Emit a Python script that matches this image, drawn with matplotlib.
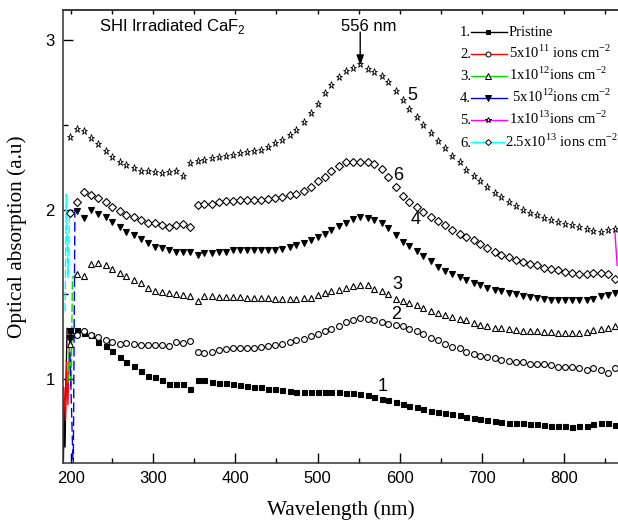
import numpy as np
import matplotlib
matplotlib.use("Agg")
import matplotlib.pyplot as plt
from matplotlib.lines import Line2D
from matplotlib.ticker import MultipleLocator, FixedLocator

SANS = "Liberation Sans"
SERIF = "Liberation Serif"

# wavelength of the plotted symbols (nm)
wl = [198, 207, 216, 224, 233, 242, 250, 259, 267, 276, 285, 293, 302, 311, 319, 328,
      336, 345, 354, 362, 371, 380, 388, 397, 405, 414, 423, 431, 440, 448, 457, 466,
      474, 483, 492, 500, 509, 517, 526, 535, 543, 552, 561, 569, 578, 586, 595, 604,
      612, 621, 629, 638, 647, 655, 664, 673, 681, 690, 698, 707, 716, 724, 733, 742,
      750, 759, 767, 776, 785, 793, 802, 810, 819, 828, 836, 845, 854, 862]

# 1. Pristine
pristine = [1.29, 1.292, 1.275, 1.258, 1.220, 1.194, 1.165, 1.131, 1.102, 1.077,
            1.047, 1.018, 1.014, 0.994, 0.971, 0.969, 0.969, 0.940, 0.998, 0.994,
            0.984, 0.978, 0.975, 0.969, 0.965, 0.961, 0.955, 0.955, 0.945, 0.941,
            0.935, 0.931, 0.925, 0.925, 0.925, 0.925, 0.925, 0.925, 0.922, 0.920,
            0.916, 0.912, 0.904, 0.896, 0.884, 0.877, 0.863, 0.855, 0.844, 0.834,
            0.825, 0.815, 0.806, 0.800, 0.794, 0.786, 0.777, 0.769, 0.763, 0.759,
            0.755, 0.749, 0.743, 0.739, 0.739, 0.735, 0.734, 0.730, 0.725, 0.725,
            0.724, 0.720, 0.724, 0.725, 0.734, 0.739, 0.739, 0.730]
# 2. 5x10^11
f5e11 = [1.25, 1.259, 1.282, 1.263, 1.249, 1.233, 1.220, 1.206, 1.214, 1.206,
         1.200, 1.200, 1.200, 1.200, 1.194, 1.220, 1.214, 1.226, 1.161, 1.157,
         1.161, 1.171, 1.177, 1.181, 1.185, 1.185, 1.186, 1.190, 1.194, 1.200,
         1.206, 1.220, 1.230, 1.239, 1.253, 1.269, 1.284, 1.298, 1.312, 1.337,
         1.347, 1.363, 1.353, 1.347, 1.337, 1.328, 1.318, 1.312, 1.298, 1.284,
         1.269, 1.245, 1.230, 1.210, 1.190, 1.181, 1.161, 1.147, 1.135, 1.128,
         1.122, 1.112, 1.106, 1.100, 1.100, 1.092, 1.088, 1.088, 1.082, 1.069,
         1.069, 1.069, 1.063, 1.053, 1.063, 1.057, 1.037, 1.063]
# 3. 1x10^12
f1e12 = [1.21, 1.622, 1.606, 1.677, 1.684, 1.671, 1.651, 1.626, 1.606, 1.587,
         1.567, 1.540, 1.520, 1.514, 1.508, 1.500, 1.494, 1.490, 1.461, 1.488,
         1.488, 1.484, 1.484, 1.484, 1.484, 1.481, 1.481, 1.478, 1.478, 1.475,
         1.471, 1.471, 1.475, 1.478, 1.481, 1.494, 1.508, 1.518, 1.528, 1.537,
         1.549, 1.557, 1.553, 1.534, 1.520, 1.500, 1.471, 1.462, 1.449, 1.435,
         1.422, 1.402, 1.390, 1.381, 1.367, 1.353, 1.347, 1.331, 1.318, 1.312,
         1.304, 1.302, 1.298, 1.288, 1.284, 1.284, 1.282, 1.278, 1.278, 1.272,
         1.272, 1.272, 1.272, 1.278, 1.288, 1.298, 1.302, 1.312]
# 4. 5x10^12
f5e12 = [1.24, 1.99, 1.95, 1.995, 1.975, 1.955, 1.925, 1.896, 1.867, 1.847,
         1.828, 1.802, 1.778, 1.775, 1.759, 1.749, 1.749, 1.749, 1.730, 1.743,
         1.743, 1.749, 1.749, 1.759, 1.759, 1.759, 1.759, 1.759, 1.759, 1.759,
         1.769, 1.778, 1.788, 1.802, 1.818, 1.841, 1.857, 1.881, 1.900, 1.920,
         1.945, 1.955, 1.951, 1.940, 1.920, 1.890, 1.850, 1.810, 1.785, 1.755,
         1.725, 1.695, 1.663, 1.637, 1.618, 1.602, 1.587, 1.569, 1.553, 1.540,
         1.528, 1.520, 1.510, 1.500, 1.490, 1.484, 1.478, 1.471, 1.469, 1.465,
         1.465, 1.465, 1.465, 1.469, 1.475, 1.488, 1.498, 1.508]
# 5. 1x10^13
f1e13 = [2.425, 2.475, 2.465, 2.420, 2.386, 2.347, 2.312, 2.280, 2.265, 2.245,
         2.230, 2.230, 2.220, 2.216, 2.220, 2.226, 2.200, 2.275, 2.288, 2.292,
         2.304, 2.308, 2.318, 2.324, 2.331, 2.337, 2.343, 2.351, 2.367, 2.390,
         2.410, 2.439, 2.469, 2.517, 2.567, 2.624, 2.684, 2.735, 2.779, 2.814,
         2.837, 2.855, 2.828, 2.808, 2.788, 2.749, 2.700, 2.643, 2.595, 2.545,
         2.497, 2.452, 2.406, 2.362, 2.318, 2.279, 2.234, 2.200, 2.167, 2.131,
         2.096, 2.073, 2.043, 2.018, 1.998, 1.978, 1.965, 1.951, 1.939, 1.925,
         1.916, 1.906, 1.896, 1.887, 1.873, 1.867, 1.877, 1.887]
# 6. 2.5x10^13
f25e13 = [1.978, 2.043, 2.102, 2.084, 2.067, 2.043, 2.014, 1.994, 1.965, 1.955,
          1.939, 1.920, 1.920, 1.906, 1.896, 1.906, 1.916, 1.896, 2.024, 2.030,
          2.034, 2.043, 2.049, 2.053, 2.057, 2.057, 2.057, 2.057, 2.063, 2.069,
          2.073, 2.083, 2.092, 2.112, 2.135, 2.167, 2.194, 2.226, 2.259, 2.278,
          2.282, 2.282, 2.282, 2.270, 2.240, 2.190, 2.130, 2.077, 2.043, 2.014,
          1.984, 1.955, 1.931, 1.906, 1.877, 1.857, 1.837, 1.818, 1.795, 1.772,
          1.750, 1.733, 1.718, 1.704, 1.690, 1.681, 1.671, 1.657, 1.651, 1.641,
          1.631, 1.626, 1.622, 1.622, 1.626, 1.626, 1.618, 1.593]

# noisy start of each trace (only the connecting line is visible there)
edge_x = [[190.5, 191.5, 192.5, 193.5, 195, 198],
          [191, 193, 194.5, 196, 198],
          [196, 198, 200, 201.5, 207],
          [198, 202.5, 204.5, 207],
          [862, 865],
          [192.5, 194, 196, 198]]
edge_y = [[0.52, 0.88, 0.60, 0.95, 1.30, 1.29],
          [0.95, 0.76, 1.10, 0.85, 1.25],
          [0.98, 1.21, 0.96, 1.60, 1.622],
          [1.24, 0.45, 2.00, 1.99],
          [1.887, 1.67],
          [1.40, 2.09, 1.60, 1.978]]

series = [pristine, f5e11, f1e12, f5e12, f1e13, f25e13]
nums = ["1.", "2.", "3.", "4.", "5.", "6."]
labels = ["Pristine",
          r"5x10$^{\mathregular{11}}$ ions cm$^{\mathregular{-2}}$",
          r"1x10$^{\mathregular{12}}$ions cm$^{\mathregular{-2}}$",
          r" 5x10$^{\mathregular{12}}$ions cm$^{\mathregular{-2}}$",
          r"1x10$^{\mathregular{13}}$ions cm$^{\mathregular{-2}}$",
          r"2.5x10$^{\mathregular{13}}$ ions cm$^{\mathregular{-2}}$"]
colors = ["black", "red", "#00e000", "blue", "magenta", "cyan"]
markers = ["s", "o", "^", "v", "*", "D"]
faces = ["black", "white", "white", "black", "white", "white"]
msizes = [3.6, 4.2, 4.4, 5.0, 5.2, 3.6]
mews = [0.8, 0.8, 0.8, 0.8, 0.6, 0.8]
edge_ls = ["-", "-", (0, (6, 2)), (0, (7, 3)), "-", (0, (6, 2))]

fig = plt.figure(figsize=(6.18, 5.25), dpi=100)
ax = fig.add_axes([63 / 618, 62 / 525, 555 / 618, 453 / 525])

for i in range(6):
    ax.plot(edge_x[i], edge_y[i], color=colors[i], lw=1.0, ls=edge_ls[i], zorder=2)
    ax.plot(wl, series[i], ls="none", marker=markers[i], ms=msizes[i],
            mfc=faces[i], mec="black", mew=mews[i], zorder=3)

ax.set_xlim(190, 866)
ax.set_ylim(0.506, 3.176)
ax.xaxis.set_major_locator(FixedLocator([200, 300, 400, 500, 600, 700, 800]))
ax.xaxis.set_minor_locator(FixedLocator([250, 350, 450, 550, 650, 750, 850]))
ax.yaxis.set_major_locator(FixedLocator([1, 2, 3]))
ax.yaxis.set_minor_locator(FixedLocator([1.5, 2.5]))
ax.tick_params(which="both", direction="in", right=False, top=False, width=1.0,
               labelsize=12, pad=6)
ax.tick_params(which="major", length=7)
ax.tick_params(which="minor", length=3.5)
for lab in ax.get_xticklabels() + ax.get_yticklabels():
    lab.set_family(SANS)
ax.spines["right"].set_visible(False)
for s in ["left", "bottom", "top"]:
    ax.spines[s].set_linewidth(1.1)
    ax.spines[s].set_color("#333333")

top = ax.secondary_xaxis("top")
top.xaxis.set_major_locator(MultipleLocator(50))
top.tick_params(which="both", direction="in", length=3, width=1.0, labeltop=False)
top.spines["top"].set_linewidth(1.1)
top.spines["top"].set_color("#333333")

ax.set_xlabel("Wavelength (nm)", family=SERIF, fontsize=15.3, labelpad=10)
ax.set_ylabel("Optical absorption (a.u)", family=SERIF, fontsize=15.3, labelpad=13)

ax.text(234, 3.053, r"SHI Irradiated CaF$_{\mathregular{2}}$", family=SANS, fontsize=12,
        va="baseline", ha="left")
ax.text(563, 3.053, "556 nm", family=SANS, fontsize=12, va="baseline", ha="center")
ax.annotate("", xy=(552, 2.85), xytext=(552, 3.045),
            arrowprops=dict(arrowstyle="-|>,head_length=0.6,head_width=0.22",
                            color="black", lw=1.0, shrinkA=0, shrinkB=0))

curve_lab = [("1", 579, 0.955), ("2", 596, 1.382), ("3", 597, 1.557),
             ("4", 619, 1.941), ("5", 616, 2.671), ("6", 598, 2.20)]
for t, x, y in curve_lab:
    ax.text(x, y, t, family=SANS, fontsize=13, ha="center", va="center")

# hand-drawn legend (figure pixel positions)
W, H = 618.0, 525.0
rows = [32, 54, 76, 98, 120, 142.5]
for i in range(6):
    yc = 1 - rows[i] / H
    fig.text(460 / W, 1 - (rows[i] + 4.5) / H, nums[i], family=SERIF, fontsize=10.5,
             va="baseline", ha="left")
    x1 = 504 if i == 5 else 507
    fig.add_artist(Line2D([471 / W, x1 / W], [yc, yc], transform=fig.transFigure,
                          color=colors[i], lw=1.0))
    fig.add_artist(Line2D([488 / W], [yc], transform=fig.transFigure, ls="none",
                          marker=markers[i], ms=msizes[i] * 0.85, mfc=faces[i],
                          mec="black", mew=0.7))
    xl = 505 if i == 5 else 509
    fig.text(xl / W, 1 - (rows[i] + 4.5) / H, labels[i], family=SERIF, fontsize=10.5,
             va="baseline", ha="left")

fig.savefig("out.png", dpi=100)
